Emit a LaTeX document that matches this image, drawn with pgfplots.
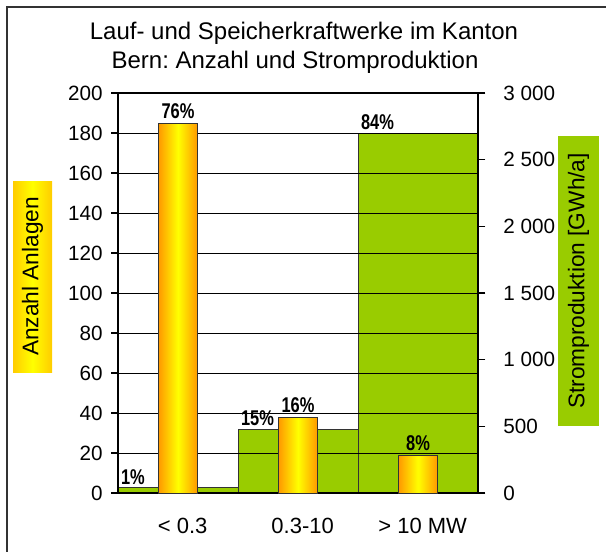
\documentclass[border=0pt]{standalone}
\usepackage{fontspec}
\setmainfont{Liberation Sans}
\newfontfamily\pctfont[FakeStretch=0.77]{Liberation Sans}
\usepackage{pgfplots}
\pgfplotsset{compat=1.18}
\definecolor{strom}{HTML}{99CC00}
\definecolor{gold}{HTML}{FFCC00}
\definecolor{barorange}{HTML}{FF9900}
\definecolor{edge}{HTML}{333333}
\frenchspacing
\begin{document}
\begin{tikzpicture}[x=0.75pt,y=0.75pt]
\useasboundingbox (0,0) rectangle (606,551);
% outer frame (top and left edges visible)
\draw[edge,line width=1.2pt] (7,-5) -- (7,544) -- (612,544);
% title
\node[font=\fontsize{18}{21}\selectfont] at (304,518) {Lauf- und Speicherkraftwerke im Kanton};
\node[font=\fontsize{18}{21}\selectfont] at (295,489) {Bern: Anzahl und Stromproduktion};
% left axis label box
\shade[left color=gold,right color=gold,middle color=yellow] (13,179) rectangle (52,370);
\node[rotate=90,font=\fontsize{17}{20}\selectfont] at (32.5,274.5) {Anzahl Anlagen};
% right axis label box
\fill[strom] (558,125) rectangle (599,415);
\node[rotate=90,font=\fontsize{17}{20}\selectfont] at (578.5,270) {Stromproduktion [GWh/a]};
% right axis: Stromproduktion
\begin{axis}[at={(88.5pt,43.5pt)},anchor=south west,scale only axis,
  width=270pt,height=300pt,
  xmin=-0.5,xmax=2.5,ymin=0,ymax=3000,
  axis x line=none, axis y line*=right,
  axis line style={black,line width=0.8pt},
  ytick={0,500,...,3000},
  tick align=center, major tick length=11pt,
  tick style={black,line width=0.8pt},
  /pgf/number format/assume math mode=true,
  /pgf/number format/1000 sep={\ },
  yticklabel style={font=\fontsize{15.5}{18}\selectfont,anchor=west,xshift=10pt},
  point meta=explicit symbolic,
  nodes near coords,
  every node near coord/.append style={font=\pctfont\bfseries\fontsize{16}{19}\selectfont,anchor=south west,xshift=-45pt,inner sep=2pt},
  ]
\addplot[ybar,bar shift=0pt,bar width=1,fill=strom,draw=edge,line width=0.6pt] coordinates {(0,40) [1\%] (1,480) [15\%] (2,2700) [84\%]};
\end{axis}
% left axis: Anzahl Anlagen
\begin{axis}[at={(88.5pt,43.5pt)},anchor=south west,scale only axis,
  width=270pt,height=300pt,
  xmin=-0.5,xmax=2.5,ymin=0,ymax=200,
  axis line style={black,line width=0.8pt},
  ytick={0,20,...,200},
  ymajorgrids, grid style={black,line width=0.7pt},
  xtick={0,1,2}, xticklabels={{< 0.3},{0.3-10},{> 10 MW}},
  x tick style={draw=none},
  extra x ticks={-0.5,0.5,1.5,2.5}, extra x tick labels={},
  extra x tick style={tick align=outside,major tick length=4pt,tick style={draw=black,line width=0.8pt},grid=none},
  y tick style={black,line width=0.8pt},
  ytick pos=left, xtick pos=bottom,
  tick align=outside, major tick length=5pt,
  /pgf/number format/assume math mode=true,
  yticklabel style={font=\fontsize{15.5}{18}\selectfont,xshift=-3pt},
  xticklabel style={font=\fontsize{16.5}{19}\selectfont,yshift=-10pt,xshift=3.5pt},
  point meta=explicit symbolic,
  nodes near coords,
  every node near coord/.append style={font=\pctfont\bfseries\fontsize{16}{19}\selectfont,inner sep=3pt},
  orangebar/.style={ybar,bar shift=0pt,bar width=0.325,draw=edge,line width=0.6pt,left color=barorange,right color=barorange,middle color=yellow},
  ]
\addplot[orangebar] coordinates {(0,185) [76\%]};
\addplot[orangebar] coordinates {(1,38) [16\%]};
\addplot[orangebar] coordinates {(2,19) [8\%]};
\end{axis}
\end{tikzpicture}
\end{document}
